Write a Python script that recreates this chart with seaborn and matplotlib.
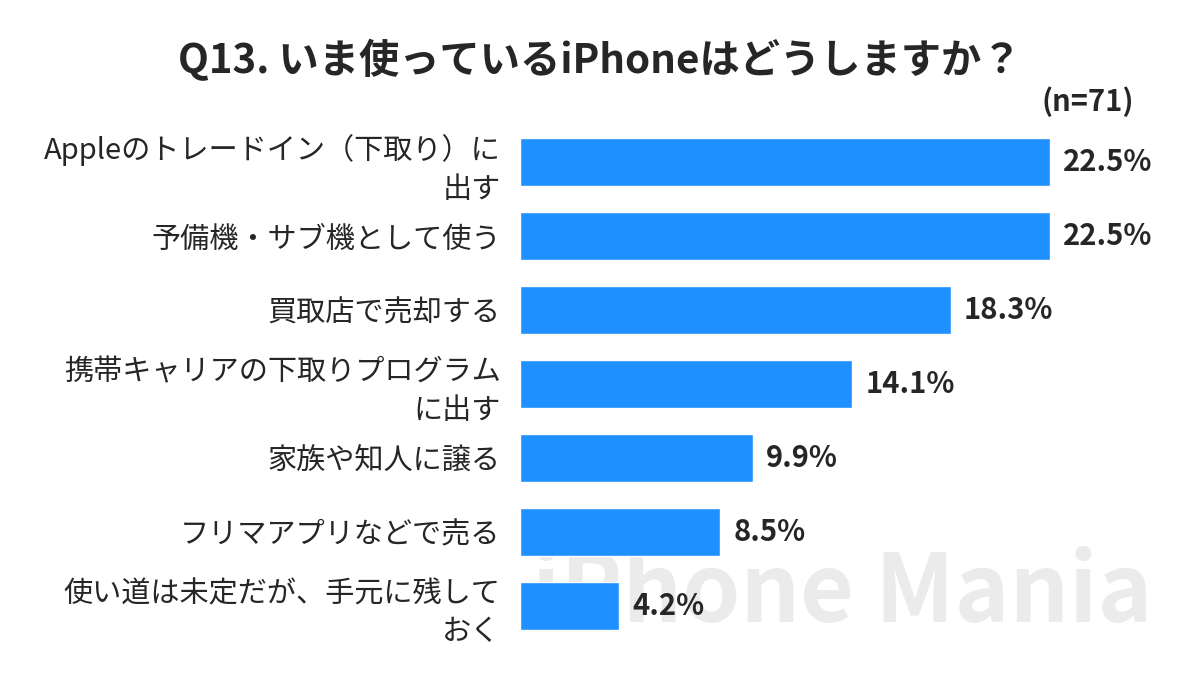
import matplotlib
matplotlib.use("Agg")
import matplotlib.pyplot as plt
import seaborn as sns
import pandas as pd

labels = [
    "Appleのトレードイン（下取り）に\n出す",
    "予備機・サブ機として使う",
    "買取店で売却する",
    "携帯キャリアの下取りプログラム\nに出す",
    "家族や知人に譲る",
    "フリマアプリなどで売る",
    "使い道は未定だが、手元に残して\nおく",
]
values = [22.5, 22.5, 18.3, 14.1, 9.9, 8.5, 4.2]

sns.set_style("white")
plt.rcParams['font.family'] = ['Noto Sans CJK JP', 'DejaVu Sans']

df = pd.DataFrame({"label": labels, "value": values})

fig = plt.figure(figsize=(12, 6.75), dpi=100)
# watermark sits behind the chart
fig.text(0.96, 0.12, "iPhone Mania", ha="right", va="center", fontsize=67,
         fontweight="bold", color="#ebebeb", zorder=-5)

ax = fig.add_axes([520 / 1200, 32 / 675, 630 / 1200, 518 / 675], zorder=2)
sns.barplot(data=df, x="value", y="label", color="#1e90ff", saturation=1,
            width=0.65, ax=ax, zorder=2)
ax.set_xlim(0, 630 / 23.56)
ax.patch.set_alpha(0)
ax.set_xlabel("")
ax.set_ylabel("")
ax.set_xticks([])
for s in ax.spines.values():
    s.set_visible(False)
ax.tick_params(axis="y", length=0, pad=14, labelsize=21)
for lab in ax.get_yticklabels():
    lab.set_linespacing(1.35)

for i, v in enumerate(values):
    ax.text(v + 0.55, i, f"{v:.1f}%", va="center", ha="left", fontsize=21,
            fontweight="bold")

fig.text(0.5, 0.91, "Q13. いま使っているiPhoneはどうしますか？", ha="center",
         va="center", fontsize=29, fontweight="bold")
fig.text(0.945, 0.85, "(n=71)", ha="right", va="center", fontsize=21,
         fontweight="bold")

fig.savefig("out.png", dpi=100)
